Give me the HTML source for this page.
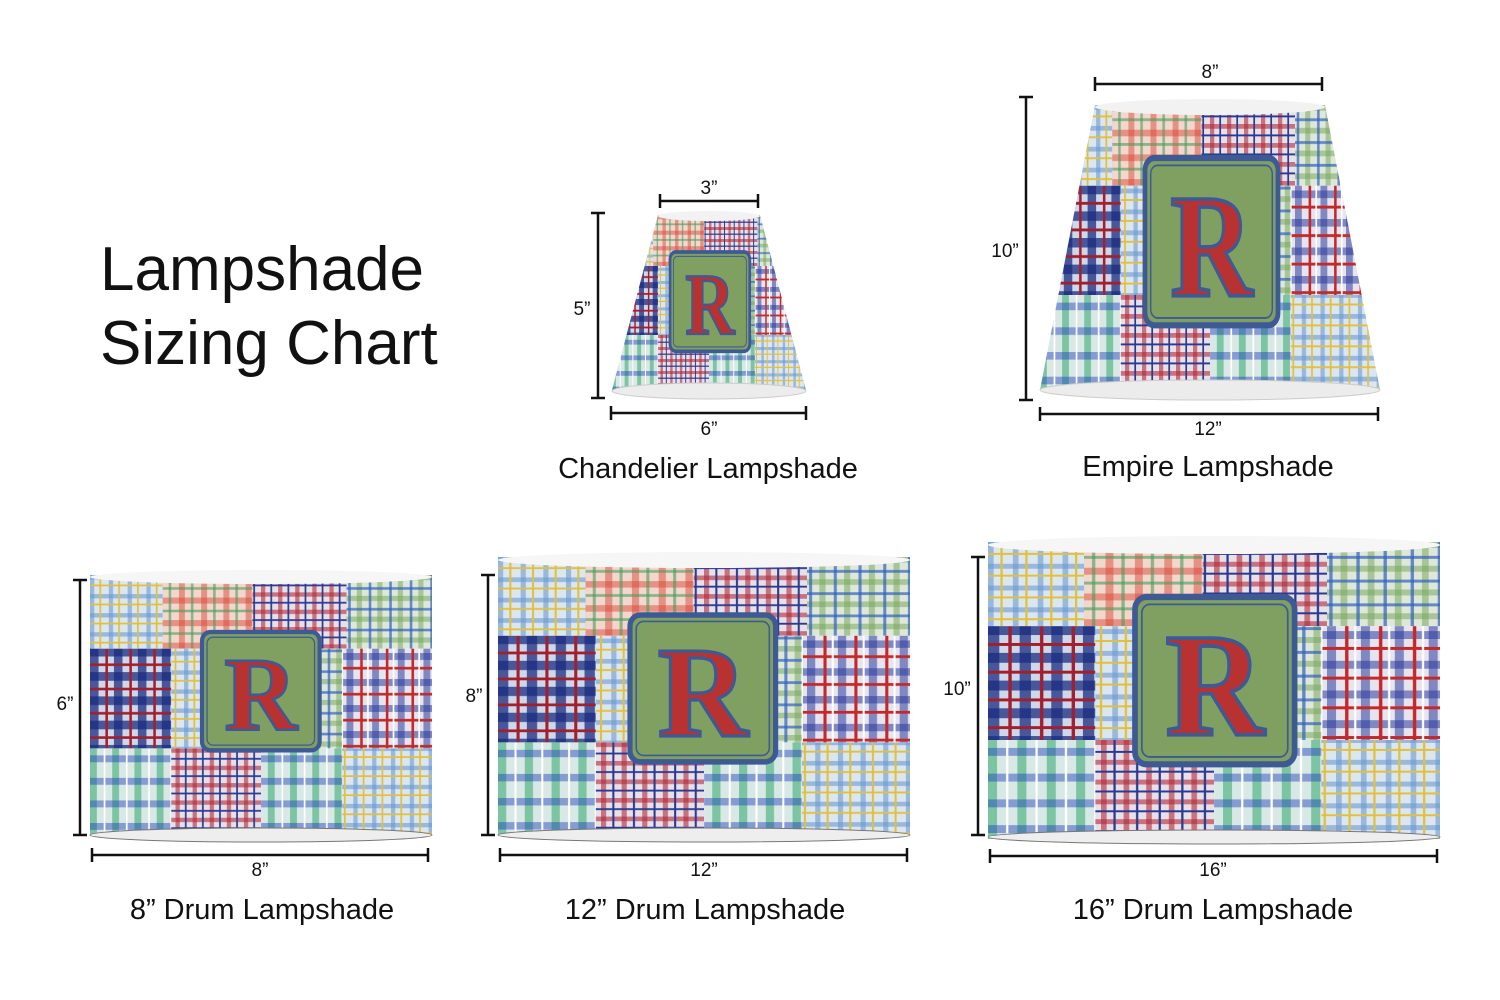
<!DOCTYPE html>
<html><head><meta charset="utf-8"><style>
html,body{margin:0;padding:0;background:#fff;width:1500px;height:1000px;overflow:hidden}
svg{display:block}
.t{font-family:"Liberation Sans",sans-serif;fill:#111}
</style></head><body>
<svg width="1500" height="1000" viewBox="0 0 1500 1000" xmlns="http://www.w3.org/2000/svg">
<defs>
<pattern id="pA" width="30" height="30" patternUnits="userSpaceOnUse"><rect width="30" height="30" fill="#e6e4ee"/><rect width="8" height="30" fill="#2b3c9c" opacity=".55"/><rect width="30" height="8" fill="#2b3c9c" opacity=".55"/><rect x="16" width="3" height="30" fill="#c42828"/><rect y="16" width="30" height="3" fill="#c42828"/><rect x="24" width="2" height="30" fill="#fff"/></pattern>
<pattern id="pB" width="26" height="26" patternUnits="userSpaceOnUse"><rect width="26" height="26" fill="#f2d8cc"/><rect width="7" height="26" fill="#d84a3a" opacity=".5"/><rect width="26" height="7" fill="#d84a3a" opacity=".5"/><rect x="14" width="3" height="26" fill="#4a9a5a" opacity=".6"/><rect y="14" width="26" height="3" fill="#4a9a5a" opacity=".6"/></pattern>
<pattern id="pC" width="22" height="22" patternUnits="userSpaceOnUse"><rect width="22" height="22" fill="#dce6ee"/><rect width="5" height="22" fill="#6a9ad0" opacity=".6"/><rect width="22" height="5" fill="#6a9ad0" opacity=".6"/><rect x="11" width="2" height="22" fill="#e0c040"/><rect y="11" width="22" height="2" fill="#e0c040"/></pattern>
<pattern id="pD" width="28" height="28" patternUnits="userSpaceOnUse"><rect width="28" height="28" fill="#cfd8e8"/><rect width="10" height="28" fill="#1a2a80" opacity=".75"/><rect width="28" height="10" fill="#1a2a80" opacity=".75"/><rect x="18" width="3" height="28" fill="#a02030"/><rect y="18" width="28" height="3" fill="#a02030"/></pattern>
<pattern id="pE" width="24" height="24" patternUnits="userSpaceOnUse"><rect width="24" height="24" fill="#dde8d8"/><rect width="6" height="24" fill="#7aa860" opacity=".55"/><rect width="24" height="6" fill="#7aa860" opacity=".55"/><rect x="14" width="3" height="24" fill="#3060c0" opacity=".7"/><rect y="14" width="24" height="3" fill="#3060c0" opacity=".7"/></pattern>
<pattern id="pF" width="20" height="20" patternUnits="userSpaceOnUse"><rect width="20" height="20" fill="#e8e0e8"/><rect width="5" height="20" fill="#b02838" opacity=".6"/><rect width="20" height="5" fill="#b02838" opacity=".6"/><rect x="11" width="2" height="20" fill="#2a3a90"/><rect y="11" width="20" height="2" fill="#2a3a90"/></pattern>
<pattern id="pG" width="26" height="26" patternUnits="userSpaceOnUse"><rect width="26" height="26" fill="#d8e8e4"/><rect width="8" height="26" fill="#20a060" opacity=".5"/><rect width="26" height="8" fill="#2040c0" opacity=".45"/><rect x="16" width="2" height="26" fill="#fff"/></pattern>
<g id="patches">
<rect x="0" y="0" width="85" height="85" fill="url(#pC)"/><rect x="85" y="0" width="105" height="85" fill="url(#pB)"/><rect x="190" y="0" width="110" height="85" fill="url(#pF)"/><rect x="300" y="0" width="100" height="85" fill="url(#pE)"/>
<rect x="0" y="85" width="95" height="115" fill="url(#pD)"/><rect x="95" y="85" width="100" height="115" fill="url(#pC)"/><rect x="195" y="85" width="100" height="115" fill="url(#pE)"/><rect x="295" y="85" width="105" height="115" fill="url(#pA)"/>
<rect x="0" y="200" width="95" height="100" fill="url(#pG)"/><rect x="95" y="200" width="105" height="100" fill="url(#pF)"/><rect x="200" y="200" width="95" height="100" fill="url(#pG)"/><rect x="295" y="200" width="105" height="100" fill="url(#pC)"/>
</g>
<g id="logo">
<rect x="0" y="0" width="140" height="136" rx="10" fill="#7fa060" stroke="#3d5a95" stroke-width="5"/>
<rect x="6" y="6" width="128" height="124" rx="7" fill="none" stroke="#3d5a95" stroke-width="1.5"/>
<text x="70" y="112" text-anchor="middle" font-family="Liberation Serif,serif" font-weight="bold" font-size="120" fill="#b83232" stroke="#3d5a95" stroke-width="3">R</text>
</g>
<clipPath id="cChand"><polygon points="658,215 760,215 806,390 612,390"/></clipPath>
<clipPath id="cEmp"><polygon points="1095,105 1325,105 1380,390 1040,390"/></clipPath>
</defs>

<text class="t" x="100" y="290" font-size="62">Lampshade</text>
<text class="t" x="100" y="364" font-size="62">Sizing Chart</text>

<g clip-path="url(#cChand)"><g transform="translate(612,215) scale(0.485,0.6)"><use href="#patches"/></g></g>
<ellipse cx="709" cy="216" rx="51" ry="5" fill="#f2f2f2"/>
<ellipse cx="709" cy="391" rx="97" ry="8" fill="#ececec" stroke="#ccc"/>
<g transform="translate(670,252) scale(0.57,0.73)"><use href="#logo"/></g>

<g clip-path="url(#cEmp)"><g transform="translate(1040,105) scale(0.85,0.95)"><use href="#patches"/></g></g>
<ellipse cx="1210" cy="107" rx="115" ry="8" fill="#f2f2f2"/>
<ellipse cx="1210" cy="390" rx="170" ry="10" fill="#ececec" stroke="#ccc"/>
<g transform="translate(1145,158) scale(0.95,1.23)"><use href="#logo"/></g>

<g transform="translate(90,575) scale(0.855,0.867)"><use href="#patches"/></g>
<ellipse cx="261" cy="577" rx="171" ry="7" fill="#f6f6f6"/>
<ellipse cx="261" cy="835" rx="171" ry="7" fill="#eee" stroke="#777"/>
<g transform="translate(202,632) scale(0.84,0.87)"><use href="#logo"/></g>

<g transform="translate(498,557) scale(1.03,0.927)"><use href="#patches"/></g>
<ellipse cx="704" cy="560" rx="206" ry="8" fill="#f6f6f6"/>
<ellipse cx="704" cy="835" rx="206" ry="7" fill="#eee" stroke="#777"/>
<g transform="translate(630,615) scale(1.04,1.08)"><use href="#logo"/></g>

<g transform="translate(988,542) scale(1.13,0.99)"><use href="#patches"/></g>
<ellipse cx="1214" cy="545" rx="226" ry="9" fill="#f6f6f6"/>
<ellipse cx="1214" cy="837" rx="226" ry="7" fill="#eee" stroke="#777"/>
<g transform="translate(1135,597) scale(1.14,1.23)"><use href="#logo"/></g>

<g stroke="#111" stroke-width="2.5" fill="none">
<path d="M660 201H758M660 194V208M758 194V208"/>
<path d="M598 213V398M591 213H605M591 398H605"/>
<path d="M611 413H806M611 406V420M806 406V420"/>
<path d="M1095 84H1322M1095 77V91M1322 77V91"/>
<path d="M1026 97V400M1019 97H1033M1019 400H1033"/>
<path d="M1040 414H1378M1040 407V421M1378 407V421"/>
<path d="M80 580V835M73 580H87M73 835H87"/>
<path d="M92 855H428M92 848V862M428 848V862"/>
<path d="M488 575V835M481 575H495M481 835H495"/>
<path d="M500 855H907M500 848V862M907 848V862"/>
<path d="M978 557V835M971 557H985M971 835H985"/>
<path d="M990 856H1437M990 849V863M1437 849V863"/>
</g>
<g class="t" font-size="19" text-anchor="middle">
<text x="709" y="194">3”</text><text x="582" y="315">5”</text><text x="709" y="435">6”</text>
<text x="1210" y="78">8”</text><text x="1005" y="257">10”</text><text x="1208" y="435">12”</text>
<text x="65" y="710">6”</text><text x="260" y="876">8”</text>
<text x="474" y="702">8”</text><text x="704" y="876">12”</text>
<text x="957" y="695">10”</text><text x="1213" y="876">16”</text>
</g>
<g class="t" font-size="29" text-anchor="middle">
<text x="708" y="478">Chandelier Lampshade</text>
<text x="1208" y="476">Empire Lampshade</text>
<text x="262" y="919">8” Drum Lampshade</text>
<text x="705" y="919">12” Drum Lampshade</text>
<text x="1213" y="919">16” Drum Lampshade</text>
</g>
</svg>
</body></html>
